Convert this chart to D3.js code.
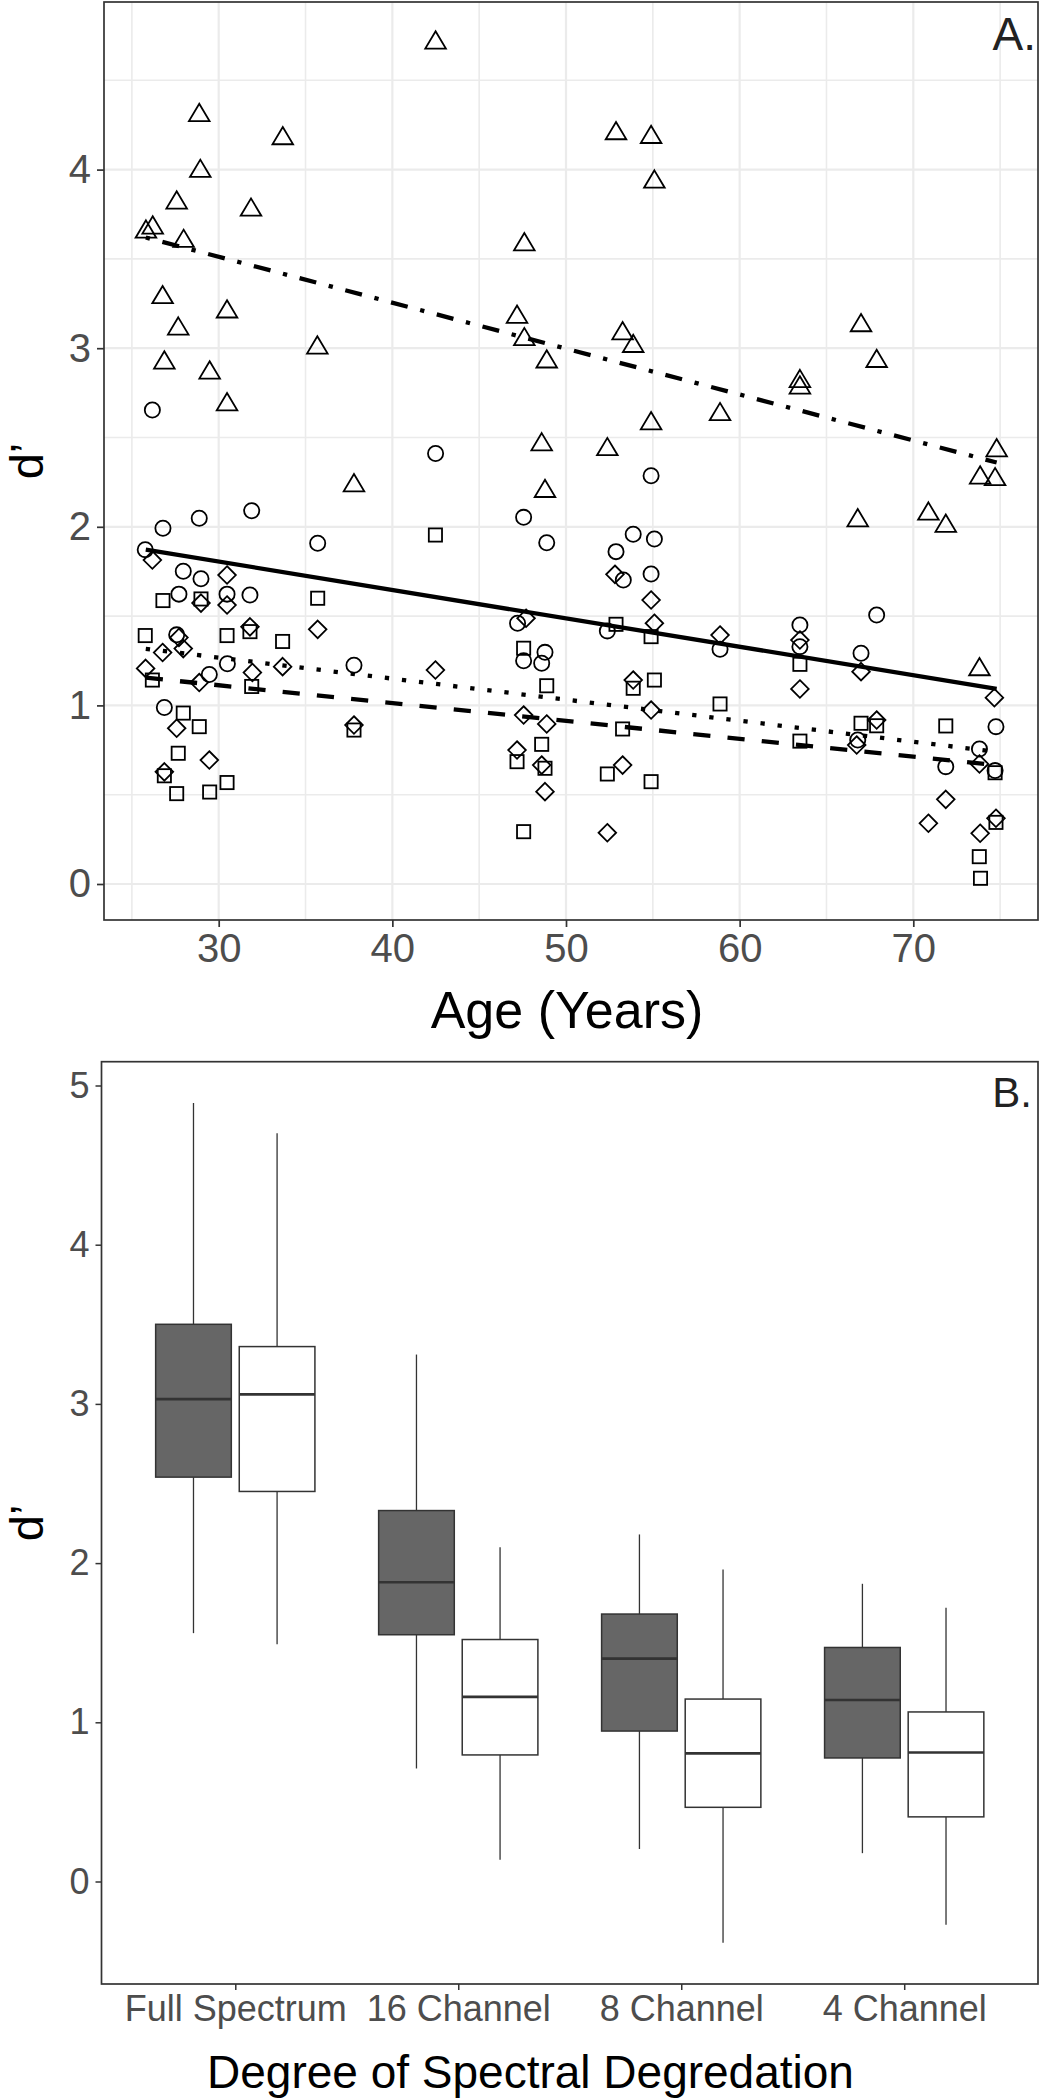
<!DOCTYPE html>
<html>
<head>
<meta charset="utf-8">
<script src="https://cdn.jsdelivr.net/npm/d3@7"></script>
<style>
  html, body { margin: 0; padding: 0; background: #fff; }
  svg { display: block; }
  text { font-family: "Liberation Sans", Arial, Helvetica, sans-serif; }
</style>
</head>
<body>
<svg id="chart" width="1040" height="2100"></svg>
<script>
// ---------------- Panel A data (age, d') ----------------
const fullSpectrumPts = [ // triangles
  [28.88,4.32],[33.69,4.19],[28.94,4.007],[27.58,3.83],[31.86,3.79],[25.81,3.667],[26.2,3.69],[27.98,3.615],
  [26.77,3.30],[30.48,3.22],[27.67,3.124],[26.87,2.934],[29.48,2.878],[30.48,2.70],
  [42.49,4.726],[47.6,3.596],[35.68,3.018],[47.18,3.19],[47.6,3.065],[48.89,2.94],[48.6,2.476],
  [37.79,2.247],[48.79,2.215],
  [52.88,4.218],[54.9,4.197],[55.09,3.947],[53.26,3.098],[53.87,3.027],[58.87,2.645],[54.9,2.594],[52.38,2.449],
  [63.47,2.83],[63.47,2.794],[66.99,3.143],[67.89,2.943],[74.8,2.443],
  [73.85,2.29],[74.71,2.281],[66.8,2.051],[70.87,2.088],[71.87,2.02],[73.81,1.217]
];
const ch16Pts = [ // circles
  [26.18,2.654],[42.49,2.41],[35.7,1.908],[47.56,2.053],[48.89,1.911],[37.79,1.225],[47.21,1.46],[47.56,1.25],
  [48.79,1.297],[48.6,1.236],
  [54.9,2.286],[53.87,1.958],[55.09,1.932],[52.88,1.861],[53.3,1.702],[54.9,1.736],[52.38,1.417],[58.87,1.314],
  [67.89,1.506],[63.47,1.45],[63.47,1.329],[66.99,1.292],[74.76,0.881],[66.8,0.806],[73.81,0.756],[71.87,0.657],[74.71,0.635],
  [26.79,1.992],[28.88,2.048],[31.9,2.09],[25.77,1.872],[27.96,1.751],[28.98,1.709],[27.71,1.623],[30.48,1.623],
  [31.8,1.618],[27.58,1.395],[30.5,1.233],[29.46,1.173],[26.87,0.988]
];
const ch8Pts = [ // diamonds
  [26.18,1.814],[30.48,1.73],[28.98,1.573],[30.48,1.562],[27.71,1.38],[31.8,1.44],[26.77,1.296],[27.96,1.318],
  [25.79,1.207],[31.94,1.184],[33.68,1.217],[28.88,1.128],[27.58,0.872],[29.46,0.694],[26.87,0.628],
  [35.7,1.426],[42.48,1.198],[37.79,0.89],[47.7,1.488],[47.56,0.946],[48.89,0.896],[47.18,0.75],[48.6,0.666],[48.79,0.517],
  [52.82,1.734],[54.9,1.59],[55.09,1.46],[58.87,1.394],[53.87,1.142],[54.9,0.974],[53.26,0.666],[52.38,0.287],
  [63.47,1.366],[66.99,1.189],[63.47,1.092],[74.67,1.043],[67.89,0.918],[66.74,0.778],[73.81,0.672],[71.87,0.474],
  [70.87,0.34],[74.76,0.368],[73.85,0.284]
];
const ch4Pts = [ // squares
  [26.79,1.587],[28.98,1.596],[25.77,1.391],[30.48,1.391],[31.8,1.413],[33.68,1.358],[26.18,1.142],[31.9,1.106],
  [27.96,0.957],[28.88,0.881],[27.67,0.732],[26.87,0.606],[30.48,0.568],[29.48,0.515],[27.58,0.506],
  [35.7,1.60],[42.48,1.954],[37.79,0.862],[47.56,1.32],[48.89,1.11],[48.6,0.782],[47.18,0.685],[48.79,0.648],[47.56,0.293],
  [52.88,1.454],[54.9,1.385],[53.87,1.096],[55.09,1.142],[58.87,1.008],[53.26,0.868],[52.38,0.616],[54.9,0.573],
  [63.47,1.23],[66.99,0.90],[67.89,0.886],[71.87,0.885],[63.47,0.80],[74.71,0.623],[74.76,0.345],[73.8,0.153],[73.87,0.032]
];
// fitted regression lines: value at start / end age
const fitAges = [25.8, 74.8];
const fitFull = [3.62, 2.36];
const fit16 = [1.872, 1.093];
const fit8 = [1.317, 0.74];
const fit4 = [1.155, 0.665];

const ageTicks = [30, 40, 50, 60, 70];
const ageMinor = [25, 35, 45, 55, 65, 75];
const dTicksA = [0, 1, 2, 3, 4];
const dMinorA = [0.5, 1.5, 2.5, 3.5, 4.5];

// ---------------- Panel B data ----------------
const categories = ["Full Spectrum", "16 Channel", "8 Channel", "4 Channel"];
const groups = ["dark", "light"];
// [lower whisker, Q1, median, Q3, upper whisker]
const darkStats = [
  [1.56, 2.54, 3.03, 3.50, 4.89],
  [0.71, 1.55, 1.88, 2.33, 3.31],
  [0.204, 0.945, 1.40, 1.68, 2.18],
  [0.178, 0.776, 1.14, 1.47, 1.87]
];
const lightStats = [
  [1.49, 2.45, 3.06, 3.36, 4.70],
  [0.137, 0.795, 1.16, 1.52, 2.10],
  [-0.385, 0.466, 0.805, 1.146, 1.96],
  [-0.272, 0.406, 0.81, 1.065, 1.72]
];
const dTicksB = [0, 1, 2, 3, 4, 5];

// ---------------- Drawing ----------------
const svg = d3.select("#chart");
const frameCol = "#333333";
const tickTextCol = "#4d4d4d";
const intFmt = d3.format("d");

// ===== Panel A =====
const A = { left: 104, right: 1038, top: 2, bottom: 920 };
const xA = d3.scaleLinear().domain([30, 70]).range([218.7, 913.3]);
const yA = d3.scaleLinear().domain([0, 4]).range([884, 169.6]);

const gA = svg.append("g");
// grid
gA.selectAll("line.vminor").data(ageMinor).join("line")
  .attr("x1", d => xA(d)).attr("x2", d => xA(d)).attr("y1", A.top).attr("y2", A.bottom)
  .attr("stroke", "#ebebeb").attr("stroke-width", 1.6);
gA.selectAll("line.hminor").data(dMinorA).join("line")
  .attr("y1", d => yA(d)).attr("y2", d => yA(d)).attr("x1", A.left).attr("x2", A.right)
  .attr("stroke", "#ebebeb").attr("stroke-width", 1.6);
gA.selectAll("line.vmajor").data(ageTicks).join("line")
  .attr("x1", d => xA(d)).attr("x2", d => xA(d)).attr("y1", A.top).attr("y2", A.bottom)
  .attr("stroke", "#ebebeb").attr("stroke-width", 2.2);
gA.selectAll("line.hmajor").data(dTicksA).join("line")
  .attr("y1", d => yA(d)).attr("y2", d => yA(d)).attr("x1", A.left).attr("x2", A.right)
  .attr("stroke", "#ebebeb").attr("stroke-width", 2.2);

// markers
const mk = gA.append("g").attr("fill", "none").attr("stroke", "#000").attr("stroke-width", 1.8);
const triPath = "M0,-8.7L10.3,8.6L-10.3,8.6Z";
mk.selectAll("path.tri").data(fullSpectrumPts).join("path")
  .attr("d", triPath).attr("transform", d => `translate(${xA(d[0])},${yA(d[1])})`);
mk.selectAll("circle.c16").data(ch16Pts).join("circle")
  .attr("cx", d => xA(d[0])).attr("cy", d => yA(d[1])).attr("r", 7.6);
const diaPath = "M0,-8.8L8.8,0L0,8.8L-8.8,0Z";
mk.selectAll("path.dia").data(ch8Pts).join("path")
  .attr("d", diaPath).attr("transform", d => `translate(${xA(d[0])},${yA(d[1])})`);
mk.selectAll("rect.sq").data(ch4Pts).join("rect")
  .attr("x", d => xA(d[0]) - 6.6).attr("y", d => yA(d[1]) - 6.6)
  .attr("width", 13.2).attr("height", 13.2);

// fit lines
const lw = 4.3;
const fits = [
  { v: fitFull, dash: `${lw},${3*lw},${4*lw},${3*lw}` },
  { v: fit16, dash: null },
  { v: fit8, dash: `${lw},${3*lw}` },
  { v: fit4, dash: `${4*lw},${4*lw}` }
];
const lineGen = d3.line().x(d => xA(d[0])).y(d => yA(d[1]));
gA.selectAll("path.fit").data(fits).join("path")
  .attr("d", f => lineGen([[fitAges[0], f.v[0]], [fitAges[1], f.v[1]]]))
  .attr("fill", "none").attr("stroke", "#000").attr("stroke-width", lw)
  .attr("stroke-linecap", "butt")
  .attr("stroke-dasharray", f => f.dash);

// frame
gA.append("rect").attr("x", A.left).attr("y", A.top)
  .attr("width", A.right - A.left).attr("height", A.bottom - A.top)
  .attr("fill", "none").attr("stroke", frameCol).attr("stroke-width", 1.7);

// axes
const axAx = gA.append("g").attr("transform", `translate(0,${A.bottom})`)
  .call(d3.axisBottom(xA).tickValues(ageTicks).tickFormat(intFmt).tickSize(7).tickPadding(7));
axAx.select(".domain").remove();
axAx.selectAll(".tick line").attr("stroke", frameCol).attr("stroke-width", 1.7);
axAx.selectAll(".tick text").attr("fill", tickTextCol).attr("font-size", 40)
  .attr("font-family", "'Liberation Sans', Arial, sans-serif");

const ayA = gA.append("g").attr("transform", `translate(${A.left},0)`)
  .call(d3.axisLeft(yA).tickValues(dTicksA).tickFormat(intFmt).tickSize(7).tickPadding(6));
ayA.select(".domain").remove();
ayA.selectAll(".tick line").attr("stroke", frameCol).attr("stroke-width", 1.7);
ayA.selectAll(".tick text").attr("fill", tickTextCol).attr("font-size", 40)
  .attr("font-family", "'Liberation Sans', Arial, sans-serif");

gA.append("text").attr("x", (A.left + A.right) / 2 - 4).attr("y", 1028)
  .attr("text-anchor", "middle").attr("font-size", 52).attr("fill", "#000").text("Age (Years)");
gA.append("text").attr("transform", `translate(43,${(A.top + A.bottom) / 2}) rotate(-90)`)
  .attr("text-anchor", "middle").attr("font-size", 47).attr("fill", "#000").text("d’");
gA.append("text").attr("x", 1036).attr("y", 50).attr("text-anchor", "end")
  .attr("font-family", "Lato, 'Open Sans', sans-serif").attr("font-size", 46)
  .attr("fill", "#222").text("A.");

// ===== Panel B =====
const B = { left: 101.5, right: 1038, top: 1061.7, bottom: 1984 };
const xB = d3.scalePoint().domain(categories).range([B.left, B.right]).padding(0.6);
const gB_ = d3.scaleBand().domain(groups).range([-83.6, 83.6]);
const yB = d3.scaleLinear().domain([0, 5]).range([1881.5, 1085.5]);
const boxW = gB_.bandwidth() * 0.905;

const gB = svg.append("g");
const boxData = [];
categories.forEach((c, i) => {
  boxData.push({ cat: c, grp: "dark", s: darkStats[i] });
  boxData.push({ cat: c, grp: "light", s: lightStats[i] });
});
const bx = d => xB(d.cat) + gB_(d.grp) + gB_.bandwidth() / 2;

const boxes = gB.selectAll("g.box").data(boxData).join("g");
boxes.append("line")
  .attr("x1", bx).attr("x2", bx).attr("y1", d => yB(d.s[0])).attr("y2", d => yB(d.s[1]))
  .attr("stroke", frameCol).attr("stroke-width", 1.3);
boxes.append("line")
  .attr("x1", bx).attr("x2", bx).attr("y1", d => yB(d.s[3])).attr("y2", d => yB(d.s[4]))
  .attr("stroke", frameCol).attr("stroke-width", 1.3);
boxes.append("rect")
  .attr("x", d => bx(d) - boxW / 2).attr("width", boxW)
  .attr("y", d => yB(d.s[3])).attr("height", d => yB(d.s[1]) - yB(d.s[3]))
  .attr("fill", d => d.grp === "dark" ? "#666666" : "#ffffff")
  .attr("stroke", frameCol).attr("stroke-width", 1.5);
boxes.append("line")
  .attr("x1", d => bx(d) - boxW / 2).attr("x2", d => bx(d) + boxW / 2)
  .attr("y1", d => yB(d.s[2])).attr("y2", d => yB(d.s[2]))
  .attr("stroke", frameCol).attr("stroke-width", 2.6);

gB.append("rect").attr("x", B.left).attr("y", B.top)
  .attr("width", B.right - B.left).attr("height", B.bottom - B.top)
  .attr("fill", "none").attr("stroke", frameCol).attr("stroke-width", 1.7);

const axB = gB.append("g").attr("transform", `translate(0,${B.bottom})`)
  .call(d3.axisBottom(xB).tickSize(6).tickPadding(5));
axB.select(".domain").remove();
axB.selectAll(".tick line").attr("stroke", frameCol).attr("stroke-width", 1.5);
axB.selectAll(".tick text").attr("fill", tickTextCol).attr("font-size", 36)
  .attr("font-family", "'Liberation Sans', Arial, sans-serif");

const ayB = gB.append("g").attr("transform", `translate(${B.left},0)`)
  .call(d3.axisLeft(yB).tickValues(dTicksB).tickFormat(intFmt).tickSize(6).tickPadding(6));
ayB.select(".domain").remove();
ayB.selectAll(".tick line").attr("stroke", frameCol).attr("stroke-width", 1.5);
ayB.selectAll(".tick text").attr("fill", tickTextCol).attr("font-size", 36)
  .attr("font-family", "'Liberation Sans', Arial, sans-serif");

gB.append("text").attr("x", 207).attr("y", 2088)
  .attr("text-anchor", "start").attr("font-size", 46).attr("fill", "#000")
  .text("Degree of Spectral Degredation");
gB.append("text").attr("transform", `translate(43,${(B.top + B.bottom) / 2}) rotate(-90)`)
  .attr("text-anchor", "middle").attr("font-size", 47).attr("fill", "#000").text("d’");
gB.append("text").attr("x", 1032).attr("y", 1107).attr("text-anchor", "end")
  .attr("font-family", "Lato, 'Open Sans', sans-serif").attr("font-size", 42)
  .attr("fill", "#222").text("B.");
</script>
</body>
</html>
